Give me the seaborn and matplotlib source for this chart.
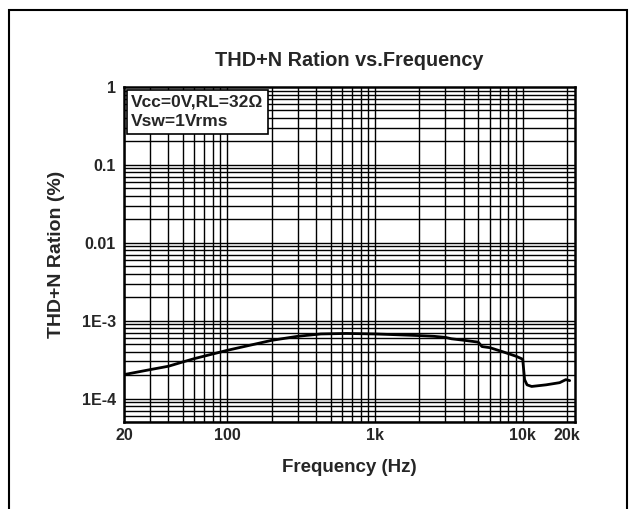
import numpy as np
import pandas as pd
import matplotlib
matplotlib.use("Agg")
import matplotlib.pyplot as plt
from matplotlib.patches import Rectangle
from matplotlib.ticker import FixedLocator, NullFormatter
import seaborn as sns

# curve
freq = [20, 30, 40, 50, 60, 80, 100, 200, 300, 430, 640, 1000, 1250, 2000, 2500,
        3000, 3300, 4000, 5000, 5300, 6000, 7300, 9000, 10000, 10300, 10700,
        11500, 14400, 17800, 19600, 20800]
thd = [2.03e-4, 2.35e-4, 2.6e-4, 2.95e-4, 3.26e-4, 3.74e-4, 4.16e-4, 5.59e-4, 6.3e-4,
       6.75e-4, 6.85e-4, 6.75e-4, 6.65e-4, 6.43e-4, 6.3e-4, 6.1e-4, 5.85e-4, 5.6e-4,
       5.3e-4, 4.65e-4, 4.5e-4, 4.0e-4, 3.5e-4, 3.2e-4, 1.75e-4, 1.5e-4, 1.43e-4,
       1.5e-4, 1.6e-4, 1.75e-4, 1.7e-4]

x_ticks = [20, 100, 1000, 10000, 20000]
x_labels = ["20", "100", "1k", "10k", "20k"]
y_ticks = [1e-4, 1e-3, 1e-2, 1e-1, 1]
y_labels = ["1E-4", "1E-3", "0.01", "0.1", "1"]

df = pd.DataFrame({"Frequency": freq, "THD": thd})

sns.set_style("white")
plt.rcParams["font.family"] = ["Liberation Sans", "DejaVu Sans"]
plt.rcParams["font.weight"] = "bold"

fig = plt.figure(figsize=(6.4, 5.09), dpi=100)
fig.patches.append(Rectangle((9 / 640, -0.05), 618 / 640, 1 - 10 / 509 + 0.05,
                             transform=fig.transFigure, fill=False,
                             edgecolor="black", linewidth=1.5))
ax = fig.add_axes([124 / 640, 1 - 422 / 509, 451 / 640, 335 / 509])

sns.lineplot(data=df, x="Frequency", y="THD", ax=ax, color="black", linewidth=2.0)
ax.set_xscale("log")
ax.set_yscale("log")
ax.set_xlim(20, 22600)
ax.set_ylim(5e-5, 1)

xgrid = [m * 10 ** e for e in range(1, 5) for m in range(1, 10)]
xgrid = [v for v in xgrid if 20 <= v <= 20000]
ygrid = [m * 10.0 ** e for e in range(-5, 0) for m in range(1, 10)]
ygrid = [v for v in ygrid if 5e-5 <= v <= 1]
for v in xgrid:
    ax.axvline(v, color="black", linewidth=1.0, zorder=1)
for v in ygrid:
    ax.axhline(v, color="black", linewidth=1.0, zorder=1)

ax.xaxis.set_major_locator(FixedLocator(x_ticks))
ax.set_xticklabels(x_labels)
ax.xaxis.set_minor_formatter(NullFormatter())
ax.yaxis.set_major_locator(FixedLocator(y_ticks))
ax.set_yticklabels(y_labels)
ax.yaxis.set_minor_formatter(NullFormatter())
ax.tick_params(which="both", length=0, labelsize=11.5)
ax.tick_params(axis="x", pad=4)
ax.tick_params(axis="y", pad=6)
for lab in ax.get_xticklabels() + ax.get_yticklabels():
    lab.set_fontweight("bold")

for s in ax.spines.values():
    s.set_color("black")
    s.set_linewidth(1.8)

ax.set_xlabel("Frequency (Hz)", fontsize=13.5, fontweight="bold", labelpad=12)
ax.set_ylabel("THD+N Ration (%)", fontsize=14, fontweight="bold", labelpad=12)
ax.set_title("THD+N Ration vs.Frequency", fontsize=14.3, fontweight="bold", pad=15)

ax.text(0.016, 0.978, "Vcc=0V,RL=32\u03a9\nVsw=1Vrms", transform=ax.transAxes,
        ha="left", va="top", fontsize=12.5, fontweight="bold", linespacing=1.4,
        zorder=5,
        bbox=dict(boxstyle="square,pad=0.25", facecolor="white", edgecolor="black",
                  linewidth=1.2))

fig.savefig("out.png", dpi=100)
